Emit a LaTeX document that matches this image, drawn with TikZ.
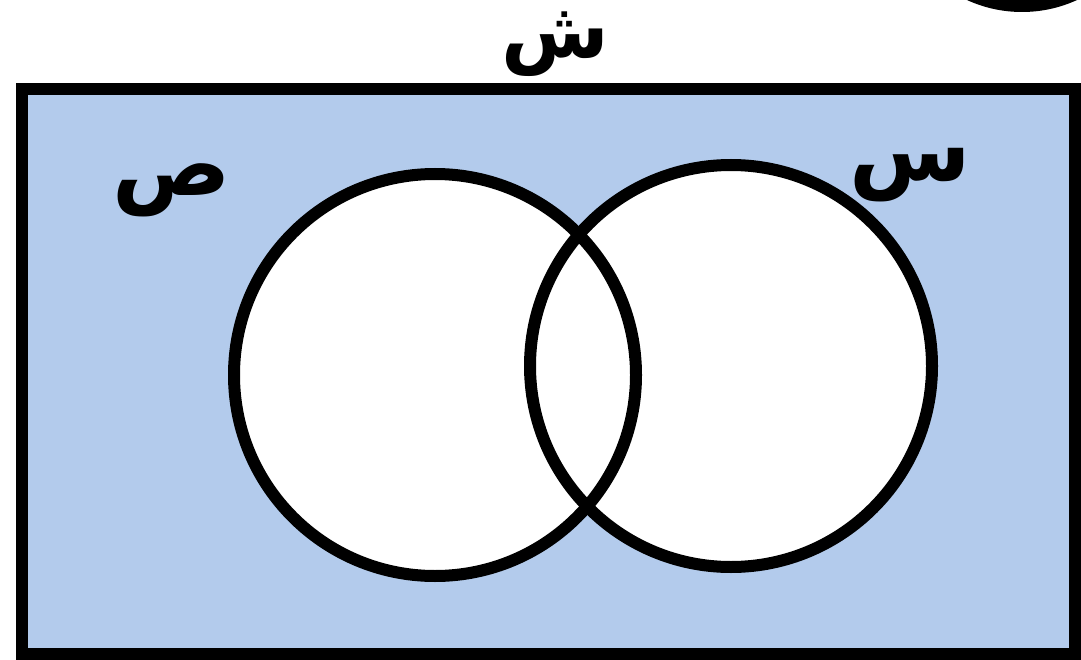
\documentclass[tikz,border=0pt]{standalone}
\usepackage{fontspec}
\newfontfamily\arabicfont[Script=Arabic]{DejaVu Sans}
\TeXXeTstate=1
\definecolor{setblue}{RGB}{179,203,236}
\begin{document}
\begin{tikzpicture}[x=1pt,y=-1pt,
  lbl/.style={font=\arabicfont\bfseries\fontsize{88}{90}\selectfont, inner sep=0pt},
  setc/.style={circle, draw=black, line width=12pt, minimum size=402pt, inner sep=0pt}]
\useasboundingbox (0,0) rectangle (1081,660);
\fill[white] (0,0) rectangle (1081,660);
\fill[black] (1022,-120) circle[radius=132];
\draw[fill=setblue, line width=12pt] (22,89) rectangle (1075,654);
\fill[white] (435,375) circle[radius=201];
\fill[white] (731,366) circle[radius=201];
\node[setc] (Y) at (435,375) {};
\node[setc] (X) at (731,366) {};
\node[lbl, font=\arabicfont\bfseries\fontsize{78}{80}\selectfont] (U) at (555,44) {\beginR ش\endR};
\node[lbl] (Ylbl) at (172,190) {\beginR ص\endR};
\node[lbl] (Xlbl) at (910,175) {\beginR س\endR};
\end{tikzpicture}
\end{document}
